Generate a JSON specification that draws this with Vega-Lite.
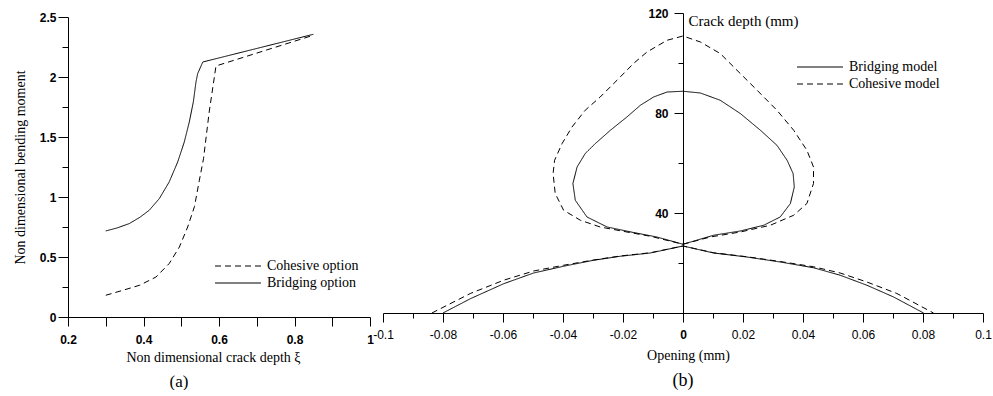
{
"$schema": "https://vega.github.io/schema/vega-lite/v6.json",
"background": "white",
"padding": {"left": 13, "top": 7, "right": 0, "bottom": 0},
"spacing": -2,
"config": {
 "view": {"stroke": null},
 "axis": {"domainColor": "black", "domainWidth": 1, "tickColor": "black", "tickWidth": 1, "labelColor": "black", "labelFont": "Liberation Sans", "labelFontSize": 12, "titleFont": "Liberation Serif", "titleFontSize": 14, "titleFontWeight": "normal", "titleColor": "black", "grid": false, "labelFlush": false, "labelOverlap": false},
 "legend": {"labelFont": "Liberation Serif", "labelFontSize": 14, "labelColor": "black", "symbolType": "M-4,0H4", "symbolSize": 132, "symbolStrokeWidth": 1, "symbolStrokeColor": "black", "labelOffset": 22, "rowPadding": 3, "title": null, "orient": "none"},
 "title": {"font": "Liberation Serif", "fontSize": 17, "fontWeight": "normal", "color": "black"}
},
"datasets": {
 "a": [
  {"series": "Cohesive option", "i": 1, "x": 0.30, "y": 0.181},
  {"series": "Cohesive option", "i": 2, "x": 0.345, "y": 0.222},
  {"series": "Cohesive option", "i": 3, "x": 0.39, "y": 0.265},
  {"series": "Cohesive option", "i": 4, "x": 0.433, "y": 0.333},
  {"series": "Cohesive option", "i": 5, "x": 0.468, "y": 0.445},
  {"series": "Cohesive option", "i": 6, "x": 0.495, "y": 0.583},
  {"series": "Cohesive option", "i": 7, "x": 0.517, "y": 0.75},
  {"series": "Cohesive option", "i": 8, "x": 0.535, "y": 0.92},
  {"series": "Cohesive option", "i": 9, "x": 0.548, "y": 1.14},
  {"series": "Cohesive option", "i": 10, "x": 0.559, "y": 1.32},
  {"series": "Cohesive option", "i": 11, "x": 0.574, "y": 1.708},
  {"series": "Cohesive option", "i": 12, "x": 0.592, "y": 2.092},
  {"series": "Cohesive option", "i": 13, "x": 0.85, "y": 2.348},
  {"series": "Bridging option", "i": 1, "x": 0.30, "y": 0.717},
  {"series": "Bridging option", "i": 2, "x": 0.33, "y": 0.742},
  {"series": "Bridging option", "i": 3, "x": 0.362, "y": 0.778},
  {"series": "Bridging option", "i": 4, "x": 0.39, "y": 0.83},
  {"series": "Bridging option", "i": 5, "x": 0.415, "y": 0.889},
  {"series": "Bridging option", "i": 6, "x": 0.442, "y": 0.987},
  {"series": "Bridging option", "i": 7, "x": 0.468, "y": 1.125},
  {"series": "Bridging option", "i": 8, "x": 0.4906, "y": 1.292},
  {"series": "Bridging option", "i": 9, "x": 0.508, "y": 1.458},
  {"series": "Bridging option", "i": 10, "x": 0.5213, "y": 1.625},
  {"series": "Bridging option", "i": 11, "x": 0.532, "y": 1.792},
  {"series": "Bridging option", "i": 12, "x": 0.539, "y": 1.958},
  {"series": "Bridging option", "i": 13, "x": 0.5435, "y": 2.028},
  {"series": "Bridging option", "i": 14, "x": 0.557, "y": 2.125},
  {"series": "Bridging option", "i": 15, "x": 0.85, "y": 2.356}
 ],
 "b": [
  {"model": "Bridging model", "part": "loop", "i": 1, "x": 0, "y": 27.5},
  {"model": "Bridging model", "part": "loop", "i": 2, "x": 0.0102, "y": 31.1},
  {"model": "Bridging model", "part": "loop", "i": 3, "x": 0.0191, "y": 32.8},
  {"model": "Bridging model", "part": "loop", "i": 4, "x": 0.0269, "y": 35.1},
  {"model": "Bridging model", "part": "loop", "i": 5, "x": 0.0324, "y": 38.4},
  {"model": "Bridging model", "part": "loop", "i": 6, "x": 0.0358, "y": 43.8},
  {"model": "Bridging model", "part": "loop", "i": 7, "x": 0.0371, "y": 50.4},
  {"model": "Bridging model", "part": "loop", "i": 8, "x": 0.0367, "y": 55.8},
  {"model": "Bridging model", "part": "loop", "i": 9, "x": 0.0347, "y": 61.1},
  {"model": "Bridging model", "part": "loop", "i": 10, "x": 0.0313, "y": 67.1},
  {"model": "Bridging model", "part": "loop", "i": 11, "x": 0.0258, "y": 73.1},
  {"model": "Bridging model", "part": "loop", "i": 12, "x": 0.0191, "y": 79.8},
  {"model": "Bridging model", "part": "loop", "i": 13, "x": 0.0124, "y": 85.1},
  {"model": "Bridging model", "part": "loop", "i": 14, "x": 0.0058, "y": 88.0},
  {"model": "Bridging model", "part": "loop", "i": 15, "x": 0, "y": 88.7},
  {"model": "Bridging model", "part": "loop", "i": 16, "x": -0.0053, "y": 88.4},
  {"model": "Bridging model", "part": "loop", "i": 17, "x": -0.0098, "y": 86.4},
  {"model": "Bridging model", "part": "loop", "i": 18, "x": -0.0142, "y": 83.1},
  {"model": "Bridging model", "part": "loop", "i": 19, "x": -0.0187, "y": 78.4},
  {"model": "Bridging model", "part": "loop", "i": 20, "x": -0.0242, "y": 73.1},
  {"model": "Bridging model", "part": "loop", "i": 21, "x": -0.0292, "y": 67.8},
  {"model": "Bridging model", "part": "loop", "i": 22, "x": -0.0326, "y": 63.8},
  {"model": "Bridging model", "part": "loop", "i": 23, "x": -0.0353, "y": 58.4},
  {"model": "Bridging model", "part": "loop", "i": 24, "x": -0.0367, "y": 51.8},
  {"model": "Bridging model", "part": "loop", "i": 25, "x": -0.0359, "y": 45.1},
  {"model": "Bridging model", "part": "loop", "i": 26, "x": -0.032, "y": 38.4},
  {"model": "Bridging model", "part": "loop", "i": 27, "x": -0.0253, "y": 34.4},
  {"model": "Bridging model", "part": "loop", "i": 28, "x": -0.0165, "y": 32.2},
  {"model": "Bridging model", "part": "loop", "i": 29, "x": -0.0087, "y": 30.4},
  {"model": "Bridging model", "part": "loop", "i": 30, "x": 0, "y": 27.5},
  {"model": "Cohesive model", "part": "loop", "i": 1, "x": 0, "y": 27.5},
  {"model": "Cohesive model", "part": "loop", "i": 2, "x": 0.0091, "y": 30.4},
  {"model": "Cohesive model", "part": "loop", "i": 3, "x": 0.0191, "y": 32.4},
  {"model": "Cohesive model", "part": "loop", "i": 4, "x": 0.0291, "y": 35.1},
  {"model": "Cohesive model", "part": "loop", "i": 5, "x": 0.0369, "y": 39.1},
  {"model": "Cohesive model", "part": "loop", "i": 6, "x": 0.0413, "y": 43.8},
  {"model": "Cohesive model", "part": "loop", "i": 7, "x": 0.0435, "y": 51.8},
  {"model": "Cohesive model", "part": "loop", "i": 8, "x": 0.0435, "y": 58.4},
  {"model": "Cohesive model", "part": "loop", "i": 9, "x": 0.0413, "y": 65.1},
  {"model": "Cohesive model", "part": "loop", "i": 10, "x": 0.0369, "y": 73.1},
  {"model": "Cohesive model", "part": "loop", "i": 11, "x": 0.0313, "y": 81.1},
  {"model": "Cohesive model", "part": "loop", "i": 12, "x": 0.0247, "y": 89.1},
  {"model": "Cohesive model", "part": "loop", "i": 13, "x": 0.018, "y": 97.1},
  {"model": "Cohesive model", "part": "loop", "i": 14, "x": 0.0124, "y": 103.8},
  {"model": "Cohesive model", "part": "loop", "i": 15, "x": 0.0058, "y": 108.4},
  {"model": "Cohesive model", "part": "loop", "i": 16, "x": 0, "y": 110.8},
  {"model": "Cohesive model", "part": "loop", "i": 17, "x": -0.0053, "y": 109.1},
  {"model": "Cohesive model", "part": "loop", "i": 18, "x": -0.012, "y": 104.4},
  {"model": "Cohesive model", "part": "loop", "i": 19, "x": -0.0165, "y": 99.8},
  {"model": "Cohesive model", "part": "loop", "i": 20, "x": -0.022, "y": 93.1},
  {"model": "Cohesive model", "part": "loop", "i": 21, "x": -0.0276, "y": 86.4},
  {"model": "Cohesive model", "part": "loop", "i": 22, "x": -0.0326, "y": 81.1},
  {"model": "Cohesive model", "part": "loop", "i": 23, "x": -0.037, "y": 74.4},
  {"model": "Cohesive model", "part": "loop", "i": 24, "x": -0.0403, "y": 67.8},
  {"model": "Cohesive model", "part": "loop", "i": 25, "x": -0.0428, "y": 61.1},
  {"model": "Cohesive model", "part": "loop", "i": 26, "x": -0.0433, "y": 55.8},
  {"model": "Cohesive model", "part": "loop", "i": 27, "x": -0.0426, "y": 47.8},
  {"model": "Cohesive model", "part": "loop", "i": 28, "x": -0.0398, "y": 41.1},
  {"model": "Cohesive model", "part": "loop", "i": 29, "x": -0.0342, "y": 37.1},
  {"model": "Cohesive model", "part": "loop", "i": 30, "x": -0.0276, "y": 34.4},
  {"model": "Cohesive model", "part": "loop", "i": 31, "x": -0.0187, "y": 32.4},
  {"model": "Cohesive model", "part": "loop", "i": 32, "x": -0.0109, "y": 30.7},
  {"model": "Cohesive model", "part": "loop", "i": 33, "x": 0, "y": 27.5},
  {"model": "Bridging model", "part": "tent", "i": 1, "x": -0.080, "y": 0},
  {"model": "Bridging model", "part": "tent", "i": 2, "x": -0.0709, "y": 5.7},
  {"model": "Bridging model", "part": "tent", "i": 3, "x": -0.0598, "y": 11.7},
  {"model": "Bridging model", "part": "tent", "i": 4, "x": -0.0498, "y": 16.0},
  {"model": "Bridging model", "part": "tent", "i": 5, "x": -0.0398, "y": 18.7},
  {"model": "Bridging model", "part": "tent", "i": 6, "x": -0.0298, "y": 21.1},
  {"model": "Bridging model", "part": "tent", "i": 7, "x": -0.0209, "y": 22.7},
  {"model": "Bridging model", "part": "tent", "i": 8, "x": -0.0109, "y": 24.0},
  {"model": "Bridging model", "part": "tent", "i": 9, "x": 0, "y": 26.8},
  {"model": "Bridging model", "part": "tent", "i": 10, "x": 0.0102, "y": 24.0},
  {"model": "Bridging model", "part": "tent", "i": 11, "x": 0.0213, "y": 22.4},
  {"model": "Bridging model", "part": "tent", "i": 12, "x": 0.0324, "y": 20.4},
  {"model": "Bridging model", "part": "tent", "i": 13, "x": 0.0435, "y": 18.1},
  {"model": "Bridging model", "part": "tent", "i": 14, "x": 0.0524, "y": 15.1},
  {"model": "Bridging model", "part": "tent", "i": 15, "x": 0.0613, "y": 11.1},
  {"model": "Bridging model", "part": "tent", "i": 16, "x": 0.0702, "y": 6.4},
  {"model": "Bridging model", "part": "tent", "i": 17, "x": 0.0802, "y": 0},
  {"model": "Cohesive model", "part": "tent", "i": 1, "x": -0.0837, "y": 0},
  {"model": "Cohesive model", "part": "tent", "i": 2, "x": -0.0709, "y": 7.8},
  {"model": "Cohesive model", "part": "tent", "i": 3, "x": -0.0598, "y": 13.1},
  {"model": "Cohesive model", "part": "tent", "i": 4, "x": -0.0498, "y": 16.8},
  {"model": "Cohesive model", "part": "tent", "i": 5, "x": -0.0398, "y": 19.1},
  {"model": "Cohesive model", "part": "tent", "i": 6, "x": -0.0298, "y": 21.2},
  {"model": "Cohesive model", "part": "tent", "i": 7, "x": -0.0209, "y": 22.8},
  {"model": "Cohesive model", "part": "tent", "i": 8, "x": -0.0109, "y": 24.1},
  {"model": "Cohesive model", "part": "tent", "i": 9, "x": 0, "y": 26.8},
  {"model": "Cohesive model", "part": "tent", "i": 10, "x": 0.0102, "y": 24.1},
  {"model": "Cohesive model", "part": "tent", "i": 11, "x": 0.0213, "y": 22.5},
  {"model": "Cohesive model", "part": "tent", "i": 12, "x": 0.0324, "y": 20.6},
  {"model": "Cohesive model", "part": "tent", "i": 13, "x": 0.0435, "y": 18.5},
  {"model": "Cohesive model", "part": "tent", "i": 14, "x": 0.0524, "y": 16.0},
  {"model": "Cohesive model", "part": "tent", "i": 15, "x": 0.0613, "y": 12.4},
  {"model": "Cohesive model", "part": "tent", "i": 16, "x": 0.0713, "y": 7.8},
  {"model": "Cohesive model", "part": "tent", "i": 17, "x": 0.0835, "y": 0}
 ]
},
"hconcat": [
 {
  "width": 302,
  "height": 304,
  "title": {"text": "(a)", "orient": "bottom", "dx": -40, "offset": 9},
  "data": {"name": "a"},
  "mark": {"type": "line", "color": "black", "strokeWidth": 1},
  "encoding": {
   "x": {"field": "x", "type": "quantitative", "scale": {"domain": [0.2, 1], "nice": false, "zero": false},
    "axis": {"values": [0.2, 0.3, 0.4, 0.5, 0.6, 0.7, 0.8, 0.9, 1], "labelExpr": "round(datum.value*10)%2==0 ? ''+datum.value : ''", "tickSize": 9, "labelPadding": 8, "labelFontWeight": "bold", "title": "Non dimensional crack depth ξ", "titleX": 145, "titleY": 44.5, "titleBaseline": "alphabetic", "titleAlign": "center"}},
   "y": {"field": "y", "type": "quantitative", "scale": {"domain": [0, 2.5], "range": [304, 4], "nice": false},
    "axis": {"values": [0, 0.25, 0.5, 0.75, 1, 1.25, 1.5, 1.75, 2, 2.25, 2.5], "labelExpr": "round(datum.value*4)%2==0 ? ''+datum.value : ''", "tickSize": {"condition": {"test": "round(datum.value*4)%2==0", "value": 10}, "value": 6}, "labelPadding": 2, "labelFontWeight": "bold", "title": "Non dimensional bending moment", "titleX": -47.5, "titleY": 154, "titleAngle": -90, "titleBaseline": "middle", "titleAlign": "center"}},
   "strokeDash": {"field": "series", "type": "nominal", "scale": {"domain": ["Cohesive option", "Bridging option"], "range": [[6, 4], [1, 0]]},
    "legend": {"legendX": 163, "legendY": 246}},
   "order": {"field": "i", "type": "quantitative"}
  }
 },
 {
  "width": 600,
  "height": 300,
  "title": {"text": "(b)", "orient": "bottom", "offset": 9, "fontSize": 18},
  "data": {"name": "b"},
  "mark": {"type": "line", "color": "black", "strokeWidth": 1},
  "encoding": {
   "x": {"field": "x", "type": "quantitative", "scale": {"domain": [-0.1, 0.1], "nice": false, "zero": false},
    "axis": {"values": [-0.1, -0.09, -0.08, -0.07, -0.06, -0.05, -0.04, -0.03, -0.02, -0.01, 0, 0.01, 0.02, 0.03, 0.04, 0.05, 0.06, 0.07, 0.08, 0.09, 0.1], "labelExpr": "round(abs(datum.value)*100)%2==0 ? ''+datum.value : ''", "tickSize": {"condition": {"test": "round(abs(datum.value)*100)%2==0", "value": 9}, "value": 5}, "labelPadding": 7, "labelFontWeight": {"condition": {"test": "datum.value==0", "value": "bold"}, "value": "normal"}, "title": "Opening (mm)", "titleX": 305, "titleY": 46.5, "titleBaseline": "alphabetic", "titleAlign": "center"}},
   "y": {"field": "y", "type": "quantitative", "scale": {"domain": [0, 120], "nice": false},
    "axis": {"offset": -300, "values": [20, 40, 60, 80, 100, 120], "labelExpr": "datum.value%40==0 ? ''+datum.value : ''", "tickSize": {"condition": {"test": "datum.value%40==0", "value": 9}, "value": 5}, "labelPadding": 6, "labelFontWeight": "bold", "title": "Crack depth (mm)", "titleFontSize": 15, "titleAngle": 0, "titleAlign": "left", "titleBaseline": "alphabetic", "titleX": 5, "titleY": 12.5}},
   "strokeDash": {"field": "model", "type": "nominal", "scale": {"domain": ["Bridging model", "Cohesive model"], "range": [[1, 0], [6, 4]]},
    "legend": {"legendX": 430, "legendY": 47}},
   "detail": {"field": "part", "type": "nominal"},
   "order": {"field": "i", "type": "quantitative"}
  }
 }
],
"resolve": {"scale": {"strokeDash": "independent"}, "legend": {"strokeDash": "independent"}}
}
